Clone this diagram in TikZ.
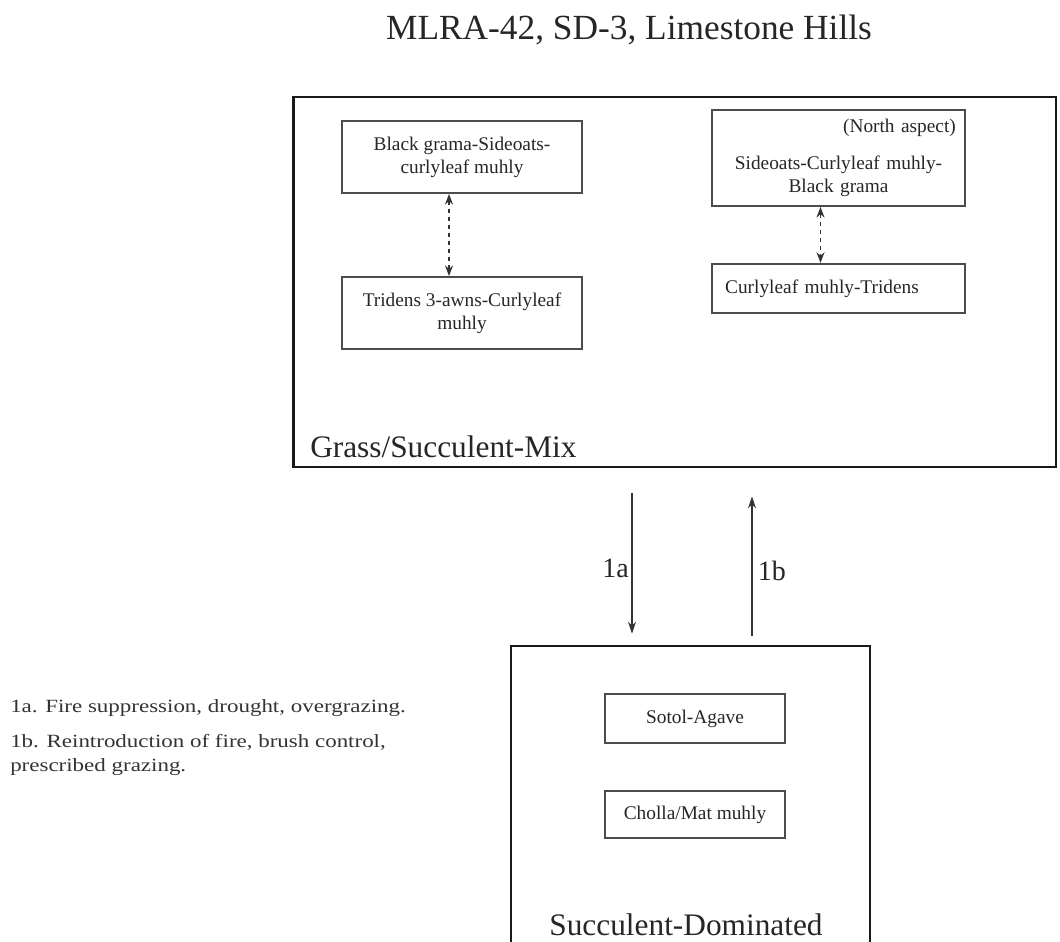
\documentclass[tikz,border=0pt]{standalone}
\usepackage{fontspec}
\setmainfont{Liberation Serif}
\newfontfamily\widefont[FakeStretch=1.23]{Liberation Serif}
\usepackage{tikz}
\usetikzlibrary{arrows, arrows.meta}
\tikzstyle{state} = [rectangle, draw=black!90, line width=2pt, inner sep=0pt]
\tikzstyle{community} = [rectangle, draw=black!70, line width=1.4pt, align=center, inner sep=2pt, text=black!85, font=\fontsize{14.5}{17.4}\selectfont]
\tikzstyle{heading} = [anchor=base, inner sep=0pt, text=black!85, font=\fontsize{26.5}{32}\selectfont]
\tikzstyle{statename} = [inner sep=0pt, text=black!85, font=\fontsize{23.5}{28}\selectfont]
\tikzstyle{note} = [anchor=base west, align=left, inner sep=0pt, text=black!80, font=\widefont\fontsize{14}{18}\selectfont]
\tikzstyle{arrow} = [black!80, line width=0.8pt, -{Stealth[length=9pt, width=6pt]}]
\tikzstyle{dasharrow} = [black!80, line width=1pt, dashed, {Stealth[length=8pt, width=6pt]}-{Stealth[length=8pt, width=6pt]}]

\begin{document}
\begin{tikzpicture}[x=0.75pt, y=-0.75pt]
   \clip (0,0) rectangle (1060,942);
   \node (title) [heading] at (629,40) {MLRA-42, SD-3, Limestone Hills};
   \node (mix) [state, minimum width=572pt, minimum height=277.5pt] at (674.5,282) {};
   \node (mixname) [statename, anchor=base west] at (310,457) {Grass/Succulent-Mix};
   \node (bgs) [community, minimum width=180pt, minimum height=54pt] at (462,157) {Black grama-Sideoats-\\curlyleaf muhly};
   \node (tac) [community, minimum width=180pt, minimum height=54pt] at (462,313) {Tridens 3-awns-Curlyleaf\\muhly};
   \node (scb) [community, text width=176pt, minimum width=190pt, minimum height=72pt] at (838.5,158) {\mbox{}\hfill(North aspect)\hspace*{6pt}\\[10pt]Sideoats-Curlyleaf muhly-\\Black grama};
   \node (cmt) [community, align=left, text width=170pt, minimum width=190pt, minimum height=37pt] at (838.5,288.5) {Curlyleaf muhly-Tridens};
   \draw [dasharrow] ([xshift=-9.75pt]bgs.south) -- ([xshift=-9.75pt]tac.north);
   \draw [dasharrow] ([xshift=-13.5pt]scb.south) -- ([xshift=-13.5pt]cmt.north);
   \node (dom) [state, minimum width=269.25pt, minimum height=270pt] at (690.5,826) {};
   \node (domname) [statename, anchor=base] at (686,935) {Succulent-Dominated};
   \node (sa) [community, minimum width=135pt, minimum height=36.75pt] at (695,718.5) {Sotol-Agave};
   \node (cm) [community, minimum width=135pt, minimum height=35.25pt] at (695,814.5) {Cholla/Mat muhly};
   \coordinate (a1) at (632,0);
   \coordinate (b1) at (752,0);
   \draw [arrow, shorten <=18.75pt, shorten >=8.25pt] (mix.south -| a1) -- node[statename, left, pos=0.57, font=\fontsize{21}{25}\selectfont, inner sep=2pt] {1a} (dom.north -| a1);
   \draw [arrow, shorten <=6.75pt, shorten >=21pt] (dom.north -| b1) -- node[statename, right, pos=0.42, font=\fontsize{21}{25}\selectfont, inner sep=4pt] {1b} (mix.south -| b1);
   \node (n1a) [note] at (10,712) {1a. Fire suppression, drought, overgrazing.};
   \node (n1b) [note] at (10,771) {1b. Reintroduction of fire, brush control,\\prescribed grazing.};
\end{tikzpicture}
\end{document}
